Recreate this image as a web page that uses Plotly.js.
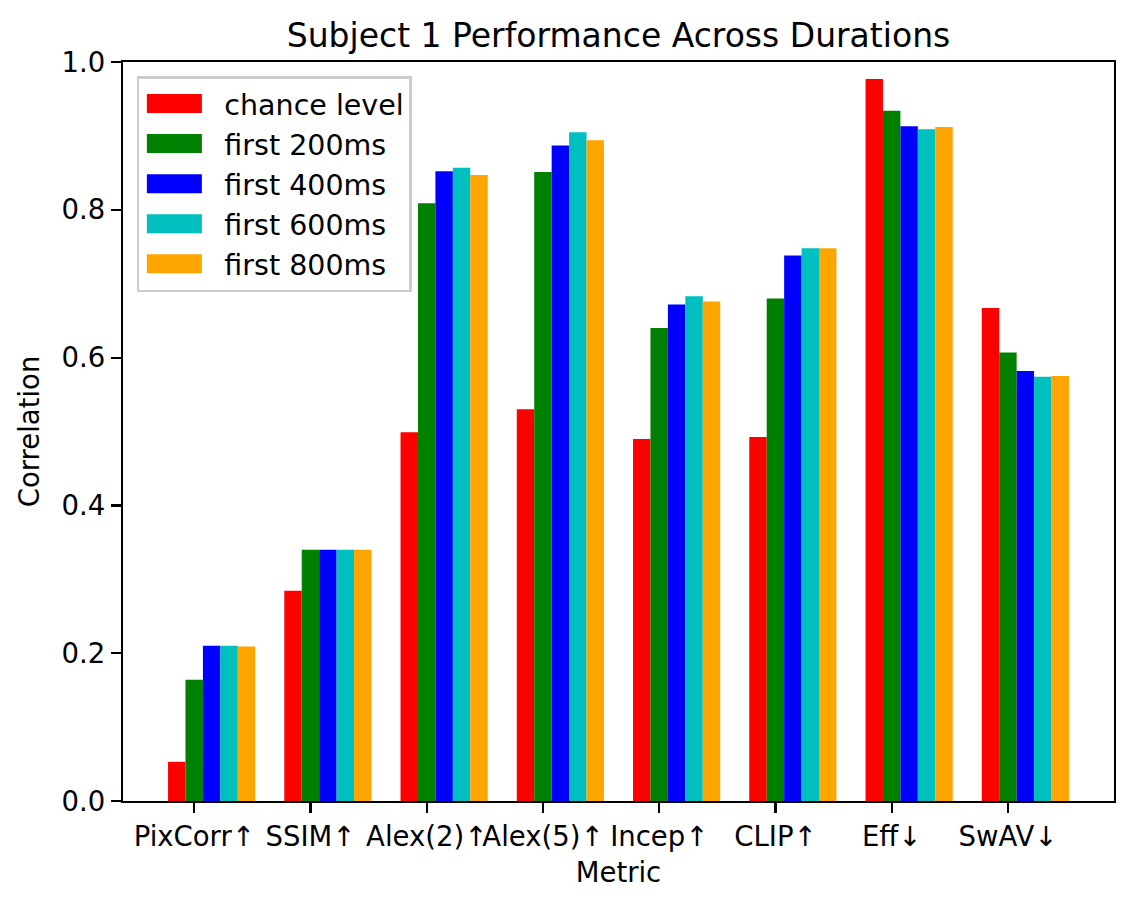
<!DOCTYPE html>
<html>
<head>
<meta charset="utf-8">
<script src="https://cdn.plot.ly/plotly-3.0.1.min.js"></script>
<style>
  html, body { margin: 0; padding: 0; background: #fff; }
  #chart { width: 1134px; height: 908px; }
</style>
</head>
<body>
<div id="chart"></div>
<script>
// metrics on the x axis
const metrics = ["PixCorr↑", "SSIM↑", "Alex(2)↑", "Alex(5)↑", "Incep↑", "CLIP↑", "Eff↓", "SwAV↓"];

// values
const chanceLevel = [0.053, 0.2845, 0.499, 0.530, 0.490, 0.4925, 0.977, 0.667];
const first200 = [0.164, 0.340, 0.809, 0.851, 0.640, 0.680, 0.934, 0.607];
const first400 = [0.210, 0.340, 0.852, 0.887, 0.672, 0.738, 0.913, 0.582];
const first600 = [0.210, 0.340, 0.857, 0.905, 0.683, 0.748, 0.909, 0.574];
const first800 = [0.209, 0.340, 0.847, 0.894, 0.676, 0.748, 0.912, 0.575];

const seriesNames = ["chance level", "first 200ms", "first 400ms", "first 600ms", "first 800ms"];
const seriesValues = [chanceLevel, first200, first400, first600, first800];
const seriesColors = ["#ff0000", "#008000", "#0000ff", "#00bfbf", "#ffa500"];

const barWidth = 0.15;
const font = "DejaVu Sans, sans-serif";

// tick sits on the second bar (like matplotlib x + (i-1)*w)
const data = seriesValues.map(function(vals, i) {
   return {
      x: metrics,
      y: vals,
      name: seriesNames[i],
      type: 'bar',
      width: barWidth,
      offset: (i - 1) * barWidth - barWidth / 2,
      marker: { color: seriesColors[i], line: { width: 0 } },
      hoverinfo: 'skip'
   };
});

const layout = {
   width: 1134,
   height: 908,
   barmode: 'overlay',
   paper_bgcolor: '#ffffff',
   plot_bgcolor: '#ffffff',
   font: { family: font, size: 27.5, color: '#000000' },
   margin: { l: 123, r: 20, t: 62, b: 107, pad: 0 },
   title: {
      text: 'Subject 1 Performance Across Durations',
      font: { family: font, size: 33, color: '#000000' },
      x: 0.5,
      xref: 'paper',
      xanchor: 'center',
      y: 1 - 35 / 908,
      yref: 'container',
      yanchor: 'middle'
   },
   xaxis: {
      type: 'category',
      range: [-0.6125, 7.9125],
      showgrid: false,
      zeroline: false,
      showline: true,
      mirror: true,
      linecolor: '#000000',
      linewidth: 2.2,
      ticks: 'outside',
      ticklen: 10,
      tickwidth: 2.2,
      tickcolor: '#000000',
      tickangle: 0,
      tickfont: { family: font, size: 27.5, color: '#000000' },
      title: { text: 'Metric', font: { family: font, size: 27.5, color: '#000000' }, standoff: 12 },
      automargin: false
   },
   yaxis: {
      range: [0, 1],
      dtick: 0.2,
      tick0: 0,
      tickformat: '.1f',
      showgrid: false,
      zeroline: false,
      showline: true,
      mirror: true,
      linecolor: '#000000',
      linewidth: 2.2,
      ticks: 'outside',
      ticklen: 10,
      tickwidth: 2.2,
      tickcolor: '#000000',
      tickfont: { family: font, size: 27.5, color: '#000000' },
      title: { text: 'Correlation', font: { family: font, size: 27.5, color: '#000000' }, standoff: 14 },
      automargin: false
   },
   showlegend: true,
   legend: {
      x: 0.014,
      y: 0.981,
      xanchor: 'left',
      yanchor: 'top',
      bgcolor: 'rgba(255,255,255,0.8)',
      bordercolor: '#cccccc',
      borderwidth: 2.5,
      font: { family: font, size: 28.5, color: '#000000' },
      itemwidth: 75,
      traceorder: 'normal'
   }
};

const options = { displayModeBar: false, staticPlot: true };
Plotly.newPlot("chart", data, layout, options).then(function(gd) {
   // matplotlib-style wide legend patches instead of the small squares
   gd.querySelectorAll('.legend .legendpoints path').forEach(function(p) {
      p.setAttribute('d', 'M-35,-9.5H20V9.5H-35Z');
   });
});
</script>
</body>
</html>
